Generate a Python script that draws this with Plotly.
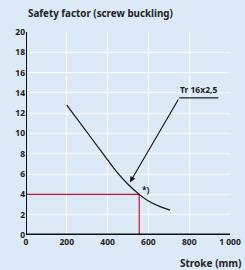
import plotly.graph_objects as go

# Data
stroke = [200, 300, 400, 450, 500, 555, 600, 657, 706]
safety = [12.8, 10.1, 7.4, 6.1, 5.0, 4.0, 3.35, 2.8, 2.45]
op_stroke = 555
op_safety = 4.0
x_ticks = [0, 200, 400, 600, 800, 1000]
x_tick_labels = ["0", "200", "400", "600", "800", "1 000"]
y_ticks = [0, 2, 4, 6, 8, 10, 12, 14, 16, 18, 20]
label_text = "Tr 16x2,5"
leader_x = [943, 751]
leader_y = [13.5, 13.5]
arrow_tip = (510, 5.2)
note_pos = (587, 4.5)

BG = "#dbeaf6"
RED = "#c8102e"
FONT = "Noto Sans"

fig = go.Figure()
fig.add_trace(go.Scatter(x=[0, op_stroke, op_stroke], y=[op_safety, op_safety, 0],
                         mode="lines", line=dict(color=RED, width=1.2), hoverinfo="skip"))
fig.add_trace(go.Scatter(x=stroke, y=safety, mode="lines",
                         line=dict(color="#111", width=1.2, shape="spline", smoothing=1.0)))
fig.add_trace(go.Scatter(x=leader_x, y=leader_y, mode="lines",
                         line=dict(color="#222", width=1.2)))

fig.add_annotation(x=arrow_tip[0], y=arrow_tip[1], ax=leader_x[1], ay=leader_y[1],
                   xref="x", yref="y", axref="x", ayref="y", text="",
                   showarrow=True, arrowhead=2, arrowsize=1, arrowwidth=1.1, arrowcolor="#111")
fig.add_annotation(x=(leader_x[0] + leader_x[1]) / 2, y=leader_y[0], xref="x", yref="y",
                   text="<b>" + label_text + "</b>", showarrow=False, yanchor="bottom",
                   yshift=1, font=dict(family=FONT, size=8.5, color="#222"))
fig.add_annotation(x=note_pos[0], y=note_pos[1], xref="x", yref="y", text="<b>*)</b>",
                   showarrow=False, font=dict(family=FONT, size=8.5, color="#222"))
fig.add_annotation(text="<b>Safety factor (screw buckling)</b>", x=0, y=1, xref="paper", yref="paper",
                   xanchor="left", yanchor="bottom", yshift=10, showarrow=False,
                   font=dict(family=FONT, size=9.8, color="#222"))
fig.add_annotation(text="<b>Stroke (mm)</b>", x=1, y=0, xref="paper", yref="paper",
                   xanchor="right", yanchor="top", yshift=-19, xshift=13, showarrow=False,
                   font=dict(family=FONT, size=10, color="#222"))

fig.update_layout(
    width=245, height=270,
    margin=dict(l=26, r=15, t=32, b=35, autoexpand=False),
    paper_bgcolor=BG, plot_bgcolor=BG,
    showlegend=False,
    font=dict(family=FONT, size=8, color="#222"),
)
fig.update_xaxes(range=[0, 1000], tickvals=x_ticks, ticktext=["<b>%s</b>" % t for t in x_tick_labels],
                 showgrid=True, gridcolor="white", gridwidth=1, zeroline=False,
                 showline=False, ticks="", tickfont=dict(family=FONT, size=8.5, color="#222"),
                 fixedrange=True, automargin=False)
fig.update_yaxes(range=[0, 20], tickvals=y_ticks, ticktext=["<b>%d</b>" % t for t in y_ticks],
                 showgrid=True, gridcolor="white", gridwidth=1, zeroline=False,
                 showline=False, ticks="", tickfont=dict(family=FONT, size=8.5, color="#222"),
                 fixedrange=True, automargin=False)
# axis lines
fig.add_shape(type="line", xref="x", yref="y", x0=0, x1=1000, y0=0, y1=0,
              line=dict(color="#111", width=3))
fig.add_shape(type="line", xref="x", yref="y", x0=0, x1=0, y0=0, y1=20,
              line=dict(color="#111", width=2))

fig.write_html("out.html", config={"displayModeBar": False},
               post_script="document.body.style.margin='0';document.body.style.background='%s';" % BG)
